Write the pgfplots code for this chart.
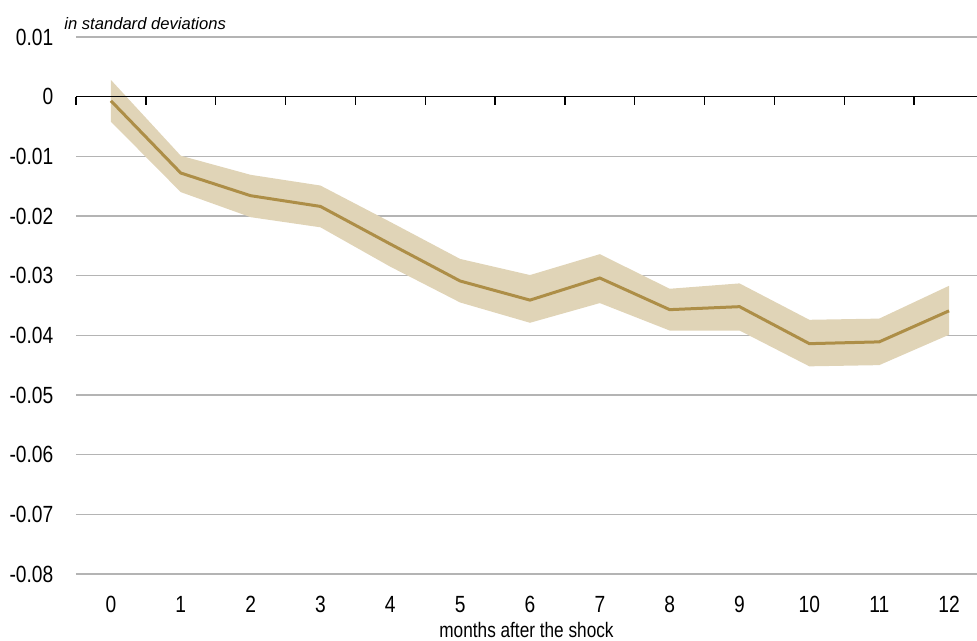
\documentclass[border=0pt]{standalone}
\usepackage{pgfplots}
\pgfplotsset{compat=1.18}
\usepgfplotslibrary{fillbetween}
\usepackage{fontspec}
\setmainfont{Liberation Sans}[FakeStretch=0.82]
\newfontfamily\notefont{Liberation Sans}
\definecolor{goldline}{HTML}{AD8E47}
\definecolor{goldband}{HTML}{E0D4B7}
\definecolor{gridgray}{HTML}{B4B4B4}
\begin{document}
\begin{tikzpicture}
\begin{axis}[
  name=ax,
  scale only axis,
  width=450.5pt, height=268.5pt,
  xmin=-0.5, xmax=12.4,
  ymin=-0.08, ymax=0.01,
  axis line style={draw=none},
  scaled y ticks=false,
  xtick={0,1,2,3,4,5,6,7,8,9,10,11,12},
  ytick={-0.08,-0.07,-0.06,-0.05,-0.04,-0.03,-0.02,-0.01,0,0.01},
  yticklabels={-0.08,-0.07,-0.06,-0.05,-0.04,-0.03,-0.02,-0.01,0,0.01},
  xticklabels={0,1,2,3,4,5,6,7,8,9,10,11,12},
  major tick length=0pt,
  ymajorgrids,
  grid style={gridgray, line width=0.6pt},
  tick label style={font=\fontsize{11.7}{14}\selectfont},
  yticklabel style={anchor=east, xshift=-7.8pt},
  xticklabel style={anchor=north, yshift=-7.5pt},
  xlabel={months after the shock},
  xlabel style={at={(rel axis cs:0.5,0)}, anchor=base, yshift=-32pt, font=\fontsize{10.5}{12}\selectfont},
  clip=false,
]
\addplot[name path=up, draw=none] coordinates {
(0,0.0028) (1,-0.0099) (2,-0.0131) (3,-0.0149) (4,-0.0210) (5,-0.0272) (6,-0.0299)
(7,-0.0264) (8,-0.0322) (9,-0.0313) (10,-0.0374) (11,-0.0372) (12,-0.0317)};
\addplot[name path=lo, draw=none] coordinates {
(0,-0.0042) (1,-0.0160) (2,-0.0202) (3,-0.0219) (4,-0.0285) (5,-0.0345) (6,-0.0379)
(7,-0.0346) (8,-0.0392) (9,-0.0392) (10,-0.0452) (11,-0.0450) (12,-0.0399)};
\addplot[goldband, draw=none] fill between[of=up and lo];
\addplot[goldline, line width=1.5pt, mark=none] coordinates {
(0,-0.0007) (1,-0.0128) (2,-0.0166) (3,-0.0184) (4,-0.0247) (5,-0.0309) (6,-0.0341)
(7,-0.0304) (8,-0.0357) (9,-0.0352) (10,-0.0414) (11,-0.0411) (12,-0.0359)};
\draw[black, line width=0.8pt] (axis cs:-0.5,0) -- (axis cs:12.4,0);
\draw[black, line width=0.7pt]
 (axis cs:-0.5,0) -- ([yshift=-4pt]axis cs:-0.5,0)
 (axis cs:0.5,0) -- ([yshift=-4pt]axis cs:0.5,0)
 (axis cs:1.5,0) -- ([yshift=-4pt]axis cs:1.5,0)
 (axis cs:2.5,0) -- ([yshift=-4pt]axis cs:2.5,0)
 (axis cs:3.5,0) -- ([yshift=-4pt]axis cs:3.5,0)
 (axis cs:4.5,0) -- ([yshift=-4pt]axis cs:4.5,0)
 (axis cs:5.5,0) -- ([yshift=-4pt]axis cs:5.5,0)
 (axis cs:6.5,0) -- ([yshift=-4pt]axis cs:6.5,0)
 (axis cs:7.5,0) -- ([yshift=-4pt]axis cs:7.5,0)
 (axis cs:8.5,0) -- ([yshift=-4pt]axis cs:8.5,0)
 (axis cs:9.5,0) -- ([yshift=-4pt]axis cs:9.5,0)
 (axis cs:10.5,0) -- ([yshift=-4pt]axis cs:10.5,0)
 (axis cs:11.5,0) -- ([yshift=-4pt]axis cs:11.5,0);
\node[anchor=base west, inner sep=0pt, font=\notefont\fontsize{8.3}{10}\selectfont\itshape] at ([xshift=-6pt, yshift=3.5pt]rel axis cs:0,1) {in standard deviations};
\end{axis}
\pgfresetboundingbox
\path ([xshift=-38pt, yshift=-33.5pt]ax.south west) rectangle ([yshift=18.5pt]ax.north east);
\end{tikzpicture}
\end{document}
